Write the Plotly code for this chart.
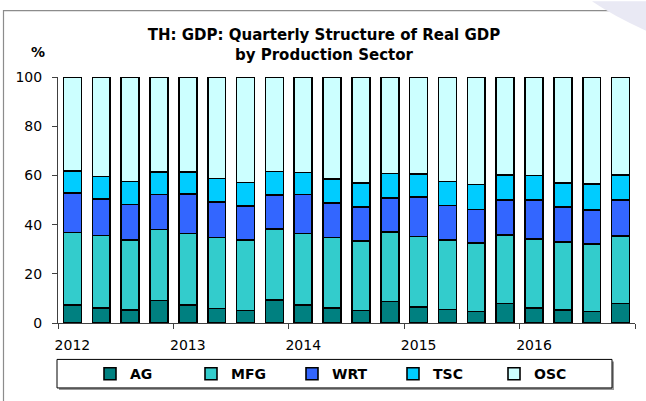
import plotly.graph_objects as go

# ---- data (shares of real GDP, %) ----
years = ["2012", "2013", "2014", "2015", "2016"]
quarters = ["Q1", "Q2", "Q3", "Q4"]
periods = [f"{y}{q}" for y in years for q in quarters]

AG  = [7.4, 6.0, 5.3, 9.1, 7.2, 5.9, 5.1, 9.4, 7.4, 6.0, 5.1, 8.7, 6.6, 5.5, 4.6, 8.0, 6.2, 5.4, 4.6, 8.0]
MFG = [29.4, 29.6, 28.5, 28.9, 29.2, 28.9, 28.7, 28.7, 29.0, 28.8, 28.3, 28.3, 28.6, 28.2, 27.9, 27.8, 27.9, 27.6, 27.5, 27.4]
WRT = [16.0, 14.7, 14.3, 14.3, 16.1, 14.4, 13.7, 14.0, 15.9, 14.1, 13.7, 13.9, 16.1, 14.0, 13.6, 14.1, 15.8, 14.1, 13.8, 14.7]
TSC = [9.1, 9.2, 9.4, 9.2, 9.0, 9.5, 9.6, 9.5, 8.9, 9.6, 9.8, 9.9, 9.2, 9.9, 10.2, 10.2, 10.0, 9.8, 10.5, 10.0]
OSC = [38.1, 40.5, 42.5, 38.5, 38.5, 41.3, 42.9, 38.4, 38.8, 41.5, 43.1, 39.2, 39.5, 42.4, 43.7, 39.9, 40.1, 43.1, 43.6, 39.9]

series = [("AG", AG, "#008080"), ("MFG", MFG, "#33CCCC"), ("WRT", WRT, "#3366FF"),
          ("TSC", TSC, "#00CCFF"), ("OSC", OSC, "#CCFFFF")]

W, H = 646, 401
L, R, T, B = 58, 635, 77, 327
FONT = "DejaVu Sans, Arial, sans-serif"

def px2x(px):
    return (px - L) / (R - L)

def py2y(py):
    return (B - py) / (B - T)

x = list(range(len(periods)))
nq = len(quarters)

fig = go.Figure()
for name, vals, col in series:
    fig.add_trace(go.Bar(
        x=x, y=vals, name=name, width=0.62,
        marker=dict(color=col, line=dict(color="#000000", width=1.6)),
        customdata=periods,
        hovertemplate="%{customdata}<br>" + name + ": %{y}%<extra></extra>",
    ))

year_pos = [i * nq for i in range(len(years))]
boundaries = [i * nq - 0.5 for i in range(len(years) + 1)]

shapes = [
    # outer frame (extends beyond right / bottom edge)
    dict(type="rect", xref="paper", yref="paper",
         x0=px2x(3.5), x1=px2x(W + 20), y0=py2y(H + 20), y1=py2y(9.5),
         line=dict(color="#8c8c8c", width=1.2), fillcolor="rgba(0,0,0,0)", layer="below"),
    # faint decoration at top-right
    dict(type="path", xref="paper", yref="paper",
         path=(f"M {px2x(592)},{py2y(0)} Q {px2x(612)},{py2y(14)} {px2x(W)},{py2y(30)} "
               f"L {px2x(W)},{py2y(0)} Z"),
         fillcolor="#E9E9F4", line=dict(width=0), layer="below"),
    # legend box shadow
    dict(type="rect", xref="paper", yref="paper",
         x0=px2x(59), x1=px2x(614), y0=py2y(395), y1=py2y(366),
         fillcolor="#9a9a9a", line=dict(width=0), layer="below"),
    # legend box
    dict(type="rect", xref="paper", yref="paper",
         x0=px2x(57), x1=px2x(612), y0=py2y(393), y1=py2y(364),
         fillcolor="#ffffff", line=dict(color="#000000", width=1), layer="below"),
]

fig.update_layout(
    width=W, height=H,
    margin=dict(l=L, r=W - R, t=T, b=H - B, pad=0),
    barmode="stack",
    plot_bgcolor="#ffffff", paper_bgcolor="#ffffff",
    font=dict(family=FONT, size=14, color="#000000"),
    title=dict(text="TH: GDP: Quarterly Structure of Real GDP<br>by Production Sector",
               x=324 / W, xanchor="center", y=1 - 40 / H, yanchor="top",
               font=dict(family=FONT, size=15, weight="bold", color="#000000")),
    showlegend=True,
    legend=dict(orientation="h", x=px2x(90), xanchor="left", y=py2y(379), yanchor="middle",
                entrywidth=56, entrywidthmode="pixels",
                font=dict(family=FONT, size=14, weight="bold", color="#000000"),
                bgcolor="rgba(0,0,0,0)", borderwidth=0, traceorder="normal"),
    xaxis=dict(range=[-0.5, len(periods) - 0.5], tickmode="array",
               tickvals=year_pos, ticktext=years, ticks="",
               showline=True, linecolor="#404040", linewidth=1,
               showgrid=False, zeroline=False, ticklabelstandoff=9,
               tickfont=dict(family=FONT, size=14, color="#000000"),
               minor=dict(tickmode="array", tickvals=boundaries, ticks="outside",
                          ticklen=5, tickcolor="#404040", tickwidth=1, showgrid=False)),
    yaxis=dict(range=[0, 100], tickmode="linear", tick0=0, dtick=20,
               ticks="outside", ticklen=5, tickcolor="#404040", tickwidth=1,
               showline=True, linecolor="#404040", linewidth=1,
               showgrid=False, zeroline=False, ticklabelstandoff=7,
               tickfont=dict(family=FONT, size=14, color="#000000")),
    shapes=shapes,
    annotations=[dict(text="<b>%</b>", xref="paper", yref="paper",
                      x=px2x(38), y=py2y(52), xanchor="center", yanchor="middle",
                      showarrow=False, font=dict(family=FONT, size=14, color="#000000"))],
)

fig.write_html("out.html", config={"displayModeBar": False},
               post_script="document.body.style.margin='0';")
